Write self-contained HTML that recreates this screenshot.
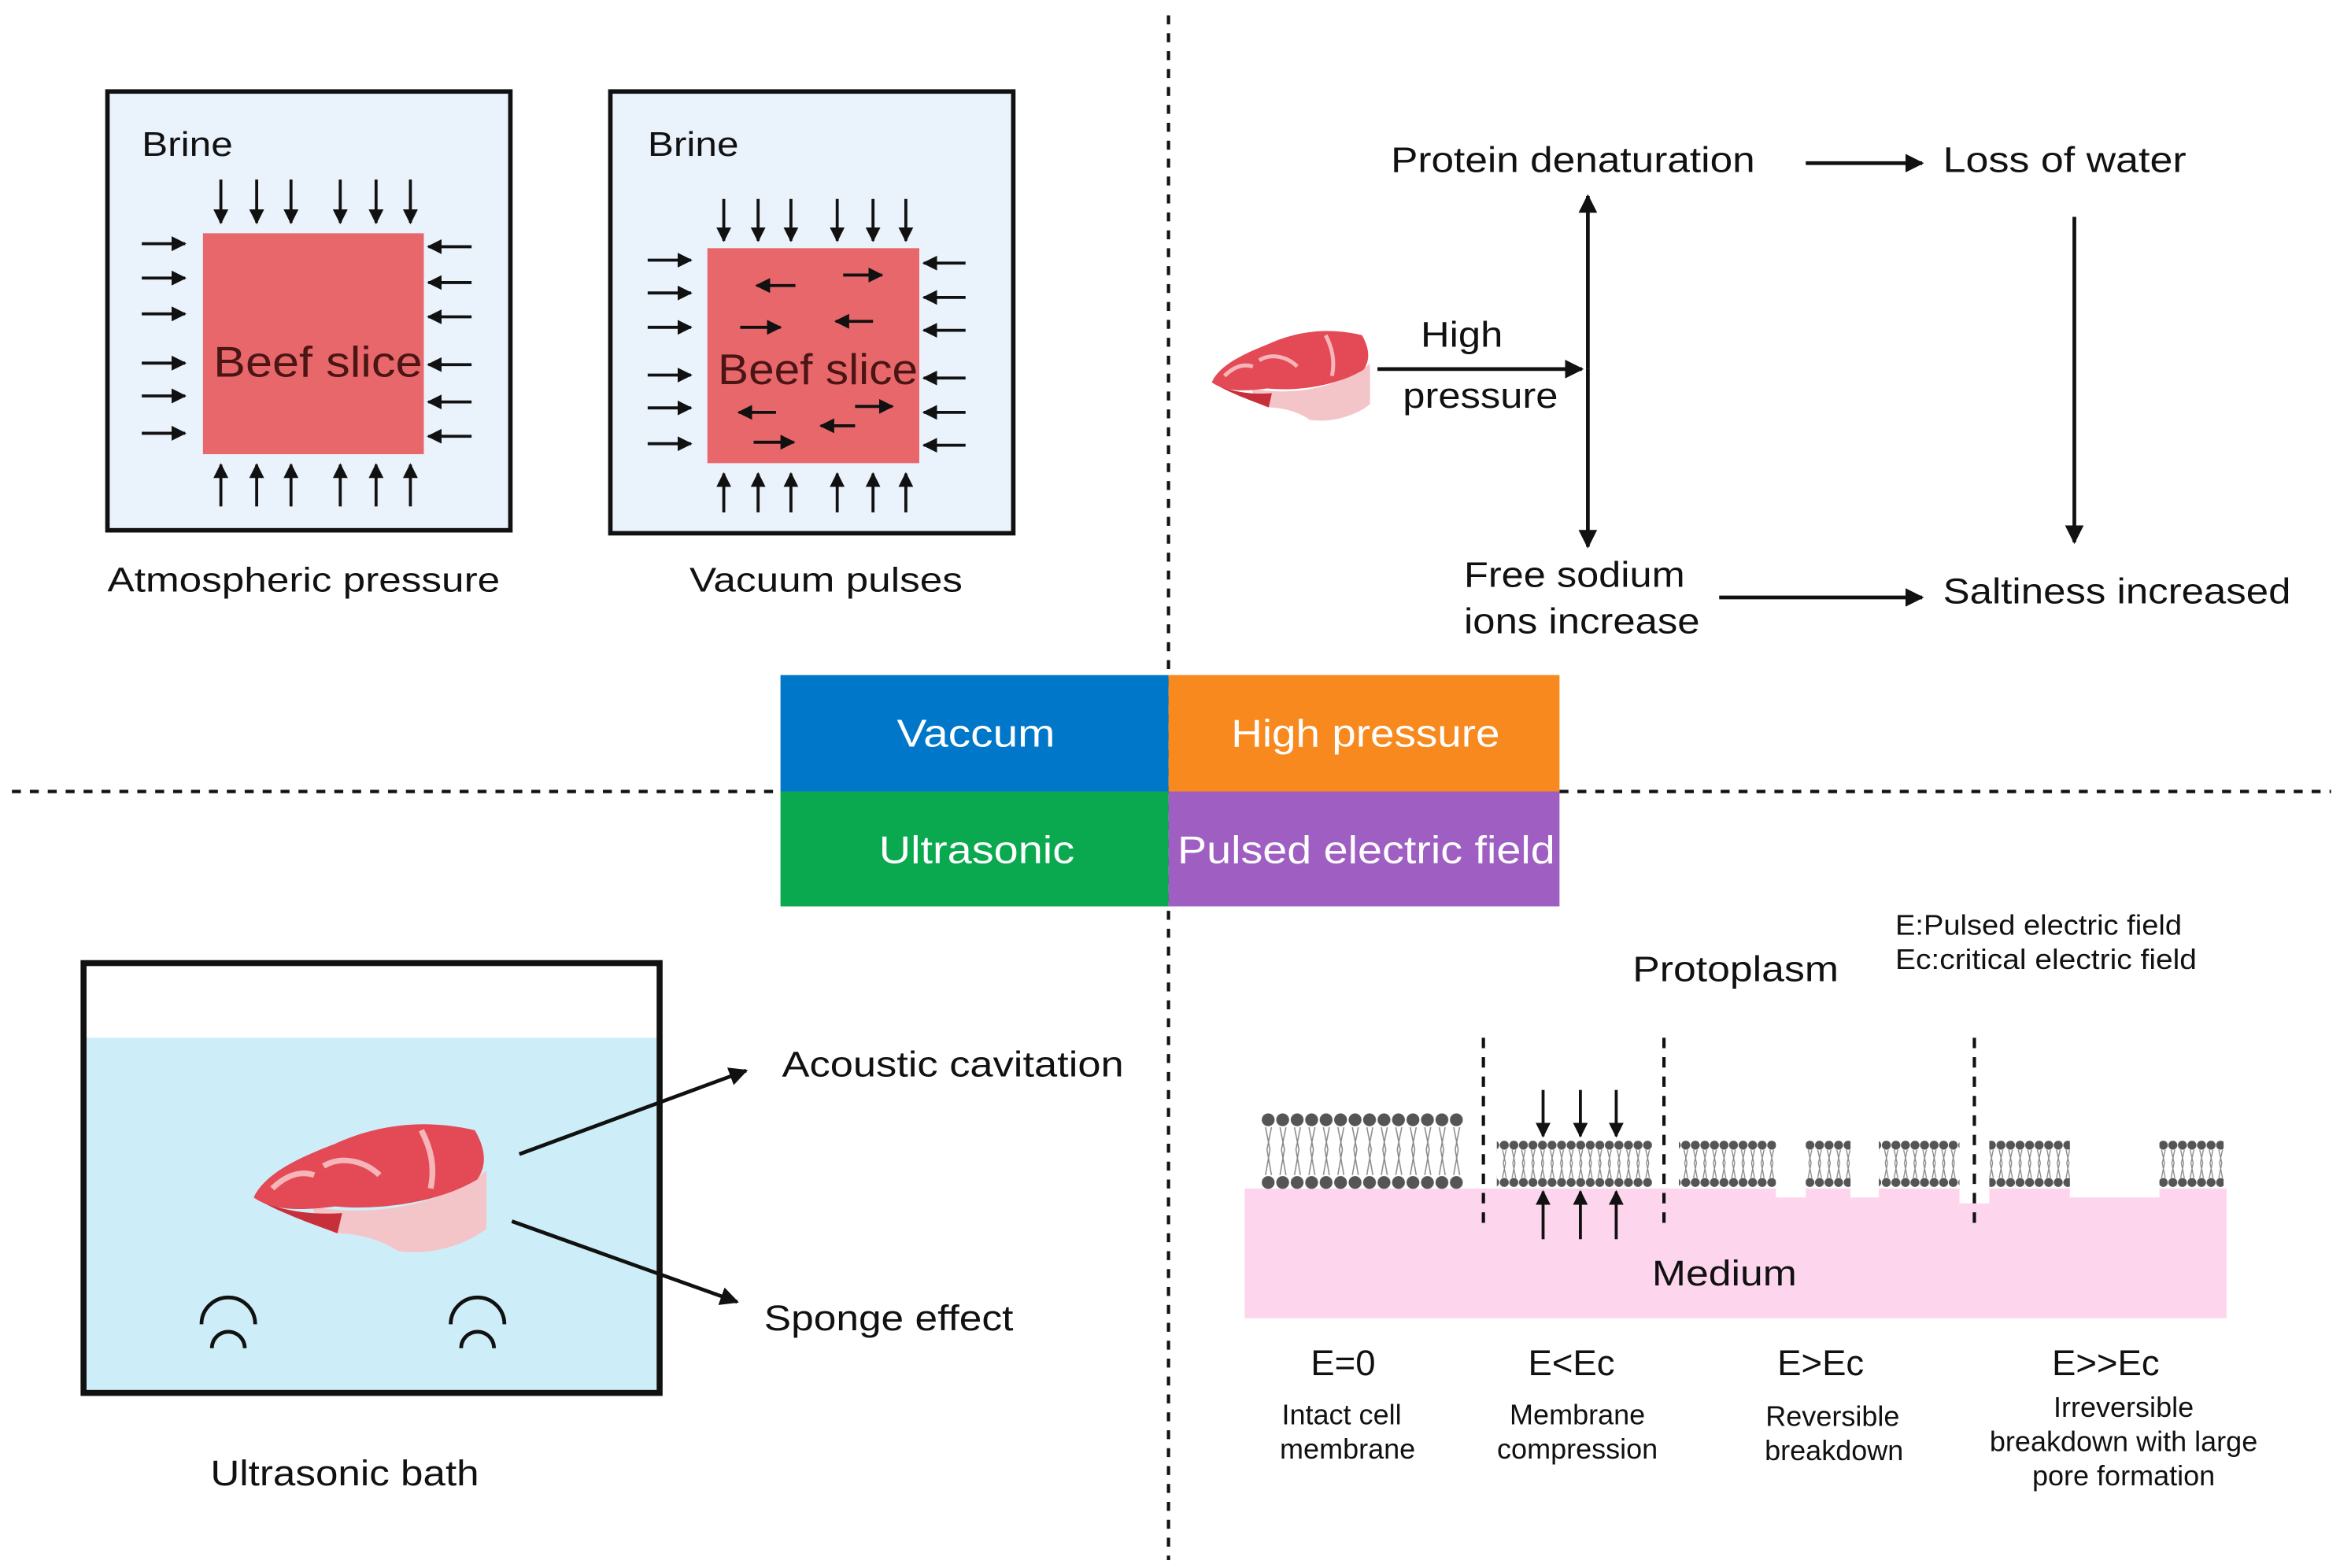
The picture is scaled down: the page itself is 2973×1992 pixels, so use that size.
<!DOCTYPE html>
<html><head><meta charset="utf-8"><style>
html,body{margin:0;padding:0;background:#fff}
svg{display:block}
text{font-family:"Liberation Sans",sans-serif;fill:#111}
</style></head><body>
<svg width="2973" height="1992" viewBox="0 0 1568 1050" xmlns="http://www.w3.org/2000/svg">
<defs>
<marker id="ah" viewBox="0 0 10 10" refX="9" refY="5" markerWidth="5" markerHeight="5" orient="auto-start-reverse"><path d="M0,0 L10,5 L0,10 Z" fill="#111"/></marker>
<g id="meat">
<path d="M25,40 C50,45 80,40 100,24 L100,50 C90,58 75,62 62,60 C55,55 45,52 35,52 C30,50 27,46 25,40Z" fill="#f4c5c8"/>
<path d="M0,36 C10,42 20,46 36,52 L38,43 C25,44 10,42 0,36Z" fill="#c7303b"/>
<path d="M0,36 C5,25 20,18 35,12 C50,5 70,0 95,6 C100,15 100,22 96,28 C80,38 55,42 35,40 C20,42 8,42 0,36 Z" fill="#e34a55"/>
<path d="M30,22 C38,17 48,20 54,26 M72,6 C76,14 78,22 76,32 M8,32 C14,26 20,24 26,26" stroke="#f6b5b8" stroke-width="2.5" fill="none"/>
</g>
<pattern id="bigm" x="845" y="0" width="9.7" height="1050" patternUnits="userSpaceOnUse">
<circle cx="4.8" cy="750" r="4.3" fill="#555"/><circle cx="4.8" cy="792" r="4.3" fill="#555"/>
<path d="M3,755 L6,770 L3,787 M7,755 L4,770 L7,787" stroke="#888" stroke-width="0.8" fill="none"/>
</pattern>
<pattern id="smm" x="0" y="0" width="6.4" height="1050" patternUnits="userSpaceOnUse">
<circle cx="3.2" cy="767" r="3" fill="#555"/><circle cx="3.2" cy="792" r="3" fill="#555"/>
<path d="M2,770 L4,779 L2,789 M4.5,770 L2.5,779 L4.5,789" stroke="#888" stroke-width="0.7" fill="none"/>
</pattern>
</defs>

<g stroke="#111" stroke-width="2.2" stroke-dasharray="6,6" fill="none">
<line x1="783" y1="10" x2="783" y2="1045"/>
<line x1="8" y1="530" x2="523" y2="530"/>
<line x1="1045" y1="530" x2="1562" y2="530"/>
</g>

<rect x="523" y="452" width="260" height="78" fill="#0077c8"/>
<rect x="783" y="452" width="262" height="78" fill="#f7891f"/>
<rect x="523" y="530" width="260" height="77" fill="#0aa84f"/>
<rect x="783" y="530" width="262" height="77" fill="#9f5fc2"/>
<g font-size="26" lengthAdjust="spacingAndGlyphs">
<text x="601" y="500" textLength="106" lengthAdjust="spacingAndGlyphs" style="fill:#fff">Vaccum</text>
<text x="825" y="500" textLength="180" lengthAdjust="spacingAndGlyphs" style="fill:#fff">High pressure</text>
<text x="589" y="578" textLength="131" lengthAdjust="spacingAndGlyphs" style="fill:#fff">Ultrasonic</text>
<text x="789" y="578" textLength="253" lengthAdjust="spacingAndGlyphs" style="fill:#fff">Pulsed electric field</text>
</g>

<rect x="72" y="61" width="270" height="294" fill="#eaf2fc" stroke="#111" stroke-width="3"/>
<rect x="136" y="156" width="148" height="148" fill="#e8676a"/>
<text x="95" y="104" font-size="23" textLength="61" lengthAdjust="spacingAndGlyphs">Brine</text>
<text x="143" y="252" font-size="29" textLength="140" lengthAdjust="spacingAndGlyphs" style="fill:#4a1515">Beef slice</text>
<g stroke="#111" stroke-width="2" marker-end="url(#ah)">
<line x1="148" y1="120" x2="148" y2="149"/><line x1="172" y1="120" x2="172" y2="149"/><line x1="195" y1="120" x2="195" y2="149"/><line x1="228" y1="120" x2="228" y2="149"/><line x1="252" y1="120" x2="252" y2="149"/><line x1="275" y1="120" x2="275" y2="149"/>
<line x1="148" y1="339" x2="148" y2="311"/><line x1="172" y1="339" x2="172" y2="311"/><line x1="195" y1="339" x2="195" y2="311"/><line x1="228" y1="339" x2="228" y2="311"/><line x1="252" y1="339" x2="252" y2="311"/><line x1="275" y1="339" x2="275" y2="311"/>
<line x1="95" y1="163" x2="124" y2="163"/><line x1="95" y1="186" x2="124" y2="186"/><line x1="95" y1="210" x2="124" y2="210"/><line x1="95" y1="243" x2="124" y2="243"/><line x1="95" y1="265" x2="124" y2="265"/><line x1="95" y1="290" x2="124" y2="290"/>
<line x1="316" y1="165" x2="287" y2="165"/><line x1="316" y1="189" x2="287" y2="189"/><line x1="316" y1="212" x2="287" y2="212"/><line x1="316" y1="244" x2="287" y2="244"/><line x1="316" y1="269" x2="287" y2="269"/><line x1="316" y1="292" x2="287" y2="292"/>
</g>
<text x="72" y="396" font-size="23" textLength="263" lengthAdjust="spacingAndGlyphs">Atmospheric pressure</text>

<rect x="409" y="61" width="270" height="296" fill="#eaf2fc" stroke="#111" stroke-width="3"/>
<rect x="474" y="166" width="142" height="144" fill="#e8676a"/>
<text x="434" y="104" font-size="23" textLength="61" lengthAdjust="spacingAndGlyphs">Brine</text>
<text x="481" y="257" font-size="29" textLength="134" lengthAdjust="spacingAndGlyphs" style="fill:#4a1515">Beef slice</text>
<g stroke="#111" stroke-width="2" marker-end="url(#ah)">
<line x1="485" y1="133" x2="485" y2="161"/><line x1="508" y1="133" x2="508" y2="161"/><line x1="530" y1="133" x2="530" y2="161"/><line x1="561" y1="133" x2="561" y2="161"/><line x1="585" y1="133" x2="585" y2="161"/><line x1="607" y1="133" x2="607" y2="161"/>
<line x1="485" y1="343" x2="485" y2="317"/><line x1="508" y1="343" x2="508" y2="317"/><line x1="530" y1="343" x2="530" y2="317"/><line x1="561" y1="343" x2="561" y2="317"/><line x1="585" y1="343" x2="585" y2="317"/><line x1="607" y1="343" x2="607" y2="317"/>
<line x1="434" y1="174" x2="463" y2="174"/><line x1="434" y1="196" x2="463" y2="196"/><line x1="434" y1="219" x2="463" y2="219"/><line x1="434" y1="251" x2="463" y2="251"/><line x1="434" y1="273" x2="463" y2="273"/><line x1="434" y1="297" x2="463" y2="297"/>
<line x1="647" y1="176" x2="619" y2="176"/><line x1="647" y1="199" x2="619" y2="199"/><line x1="647" y1="221" x2="619" y2="221"/><line x1="647" y1="253" x2="619" y2="253"/><line x1="647" y1="276" x2="619" y2="276"/><line x1="647" y1="298" x2="619" y2="298"/>
<line x1="533" y1="191" x2="507" y2="191"/><line x1="565" y1="184" x2="591" y2="184"/><line x1="496" y1="219" x2="523" y2="219"/><line x1="585" y1="215" x2="560" y2="215"/>
<line x1="520" y1="276" x2="495" y2="276"/><line x1="573" y1="272" x2="598" y2="272"/><line x1="505" y1="296" x2="532" y2="296"/><line x1="573" y1="285" x2="550" y2="285"/>
</g>
<text x="462" y="396" font-size="23" textLength="183" lengthAdjust="spacingAndGlyphs">Vacuum pulses</text>

<use href="#meat" transform="translate(812,218) scale(1.06,1.05)"/>
<g font-size="24">
<text x="932" y="115" textLength="244" lengthAdjust="spacingAndGlyphs">Protein denaturation</text>
<text x="1302" y="115" textLength="163" lengthAdjust="spacingAndGlyphs">Loss of water</text>
<text x="952" y="232" textLength="55" lengthAdjust="spacingAndGlyphs">High</text>
<text x="940" y="273" textLength="104" lengthAdjust="spacingAndGlyphs">pressure</text>
<text x="981" y="393" textLength="148" lengthAdjust="spacingAndGlyphs">Free sodium</text>
<text x="981" y="424" textLength="158" lengthAdjust="spacingAndGlyphs">ions increase</text>
<text x="1302" y="404" textLength="233" lengthAdjust="spacingAndGlyphs">Saltiness increased</text>
</g>
<g stroke="#111" stroke-width="2.5" marker-end="url(#ah)" fill="none">
<line x1="1210" y1="109" x2="1288" y2="109"/>
<line x1="1390" y1="145" x2="1390" y2="363"/>
<line x1="923" y1="247" x2="1060" y2="247"/>
<line x1="1064" y1="247" x2="1064" y2="131"/>
<line x1="1064" y1="247" x2="1064" y2="366"/>
<line x1="1152" y1="400" x2="1288" y2="400"/>
</g>

<rect x="58" y="695" width="382" height="236" fill="#cdeef8"/>
<rect x="56" y="645" width="386" height="288" fill="none" stroke="#111" stroke-width="4"/>
<use href="#meat" transform="translate(170,748) scale(1.56,1.5)"/>
<g stroke="#111" stroke-width="2.5" marker-end="url(#ah)">
<line x1="348" y1="773" x2="500" y2="717"/>
<line x1="343" y1="818" x2="494" y2="872"/>
</g>
<g stroke="#111" stroke-width="2.5" fill="none">
<path d="M135,887 A18,18 0 0 1 171,887"/><path d="M142,903 A11,11 0 0 1 164,903"/>
<path d="M302,887 A18,18 0 0 1 338,887"/><path d="M309,903 A11,11 0 0 1 331,903"/>
</g>
<g font-size="24">
<text x="524" y="721" textLength="229" lengthAdjust="spacingAndGlyphs">Acoustic cavitation</text>
<text x="512" y="891" textLength="167" lengthAdjust="spacingAndGlyphs">Sponge effect</text>
<text x="141" y="995" textLength="180" lengthAdjust="spacingAndGlyphs">Ultrasonic bath</text>
</g>

<path d="M834,796 L1190,796 L1190,802 L1210,802 L1210,796 L1240,796 L1240,802 L1259,802 L1259,796 L1313,796 L1313,806 L1333,806 L1333,796 L1387,796 L1387,802 L1447,802 L1447,796 L1492,796 L1492,883 L834,883 Z" fill="#fdd6ee"/>
<rect x="845" y="745" width="136" height="52" fill="url(#bigm)"/>
<rect x="1003" y="763" width="104" height="33" fill="url(#smm)"/>
<rect x="1125" y="763" width="65" height="33" fill="url(#smm)"/>
<rect x="1210" y="763" width="30" height="33" fill="url(#smm)"/>
<rect x="1259" y="763" width="54" height="33" fill="url(#smm)"/>
<rect x="1333" y="763" width="54" height="33" fill="url(#smm)"/>
<rect x="1447" y="763" width="43" height="33" fill="url(#smm)"/>
<g stroke="#111" stroke-width="2.2" stroke-dasharray="7,6">
<line x1="994" y1="695" x2="994" y2="825"/>
<line x1="1115" y1="695" x2="1115" y2="825"/>
<line x1="1323" y1="695" x2="1323" y2="825"/>
</g>
<g stroke="#111" stroke-width="2" marker-end="url(#ah)">
<line x1="1034" y1="730" x2="1034" y2="761"/><line x1="1059" y1="730" x2="1059" y2="761"/><line x1="1083" y1="730" x2="1083" y2="761"/>
<line x1="1034" y1="830" x2="1034" y2="798"/><line x1="1059" y1="830" x2="1059" y2="798"/><line x1="1083" y1="830" x2="1083" y2="798"/>
</g>
<text x="1094" y="657" font-size="24" textLength="138" lengthAdjust="spacingAndGlyphs">Protoplasm</text>
<text x="1270" y="626" font-size="19" textLength="192" lengthAdjust="spacingAndGlyphs">E:Pulsed electric field</text>
<text x="1270" y="649" font-size="19" textLength="202" lengthAdjust="spacingAndGlyphs">Ec:critical electric field</text>
<text x="1107" y="861" font-size="24" textLength="97" lengthAdjust="spacingAndGlyphs">Medium</text>
<g font-size="24" text-anchor="middle">
<text x="900" y="921">E=0</text>
<text x="1053" y="921">E&lt;Ec</text>
<text x="1220" y="921">E&gt;Ec</text>
<text x="1411" y="921">E&gt;&gt;Ec</text>
</g>
<g font-size="19" text-anchor="middle">
<text x="899" y="954">Intact cell</text><text x="903" y="977">membrane</text>
<text x="1057" y="954">Membrane</text><text x="1057" y="977">compression</text>
<text x="1228" y="955">Reversible</text><text x="1229" y="978">breakdown</text>
<text x="1423" y="949">Irreversible</text><text x="1423" y="972">breakdown with large</text><text x="1423" y="995">pore formation</text>
</g>
</svg>
</body></html>
